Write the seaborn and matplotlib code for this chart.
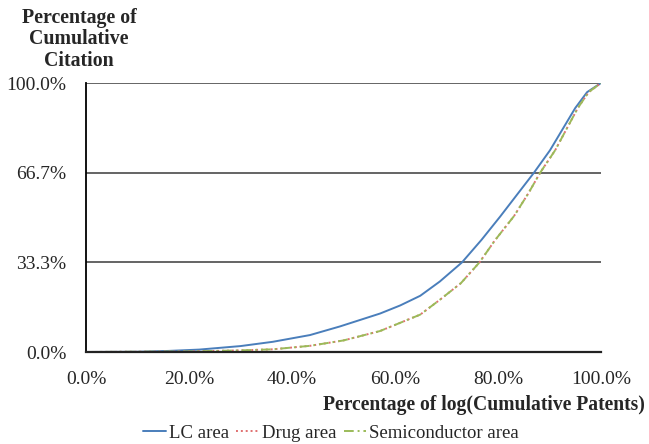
import matplotlib
matplotlib.use("Agg")
import matplotlib.pyplot as plt
from matplotlib.lines import Line2D
import seaborn as sns
import pandas as pd

# Data (percent values)
lc_x = [0, 10, 16, 22, 30, 36.3, 43.5, 49.3, 57.1, 61, 64.9, 68.7, 73, 76.8, 80.4, 83.9, 87, 90.1, 95, 97.3, 100]
lc_y = [0, 0.1, 0.4, 0.9, 2.2, 3.8, 6.3, 9.5, 14.3, 17.3, 20.9, 26.2, 33.3, 41.7, 50.3, 59, 66.7, 75, 90.7, 96.6, 100]

drug_x = [0, 20, 30, 36.3, 43.5, 50, 57.1, 64.9, 68.7, 72.8, 76.4, 79.4, 83.1, 85.9, 88.2, 91.1, 95.5, 97.6, 100]
drug_y = [0, 0.2, 0.6, 1.0, 2.3, 4.3, 7.8, 13.9, 19.4, 25.6, 33.3, 41.5, 50.5, 59, 66.7, 75, 90.7, 96.6, 100]

semi_x = [0, 20, 30, 36.3, 43.5, 50, 57.1, 64.9, 68.7, 72.8, 76.4, 79.4, 83.1, 85.9, 88.2, 91.1, 95.5, 97.6, 100]
semi_y = [0, 0.2, 0.6, 1.0, 2.3, 4.3, 7.8, 13.9, 19.4, 25.6, 33.3, 41.5, 50.5, 59, 66.7, 75, 90.7, 96.6, 100]

series_names = ["LC area", "Drug area", "Semiconductor area"]
x_ticks = [0, 20, 40, 60, 80, 100]
x_labels = ["0.0%", "20.0%", "40.0%", "60.0%", "80.0%", "100.0%"]
y_ticks = [0, 33.333, 66.667, 100]
y_labels = ["0.0%", "33.3%", "66.7%", "100.0%"]

df = pd.concat([
    pd.DataFrame({"x": lc_x, "y": lc_y, "series": series_names[0]}),
    pd.DataFrame({"x": drug_x, "y": drug_y, "series": series_names[1]}),
    pd.DataFrame({"x": semi_x, "y": semi_y, "series": series_names[2]}),
])

sns.set_style("white")
plt.rcParams["font.family"] = ["Liberation Serif", "DejaVu Serif"]

fig = plt.figure(figsize=(6.49, 4.44), dpi=100)
ax = fig.add_axes([86/649, 1-352/444, (601-86)/649, (352-83)/444])

palette = {"LC area": "#4a7ebb", "Drug area": "#e07070", "Semiconductor area": "#9bbb59"}
dashes = {"LC area": "", "Drug area": (1, 1.5), "Semiconductor area": (5, 2, 1, 2)}

# gridlines
for yv in y_ticks[1:]:
    ax.axhline(yv, color="#3a3a3a", lw=1.1, zorder=0)

sns.lineplot(data=df, x="x", y="y", hue="series", style="series",
             palette=palette, dashes=dashes, hue_order=series_names,
             style_order=series_names, ax=ax, lw=1.4, legend=False, sort=False)

ax.set_xlim(0, 100)
ax.set_ylim(0, 100)
ax.set_xticks(x_ticks)
ax.set_xticklabels(x_labels, fontsize=14)
ax.set_yticks(y_ticks)
ax.set_yticklabels(y_labels, fontsize=14)
ax.tick_params(axis="x", length=0, pad=14)
ax.tick_params(axis="y", length=0, pad=14)
ax.set_xlabel("")
ax.set_ylabel("")
for s in ["top", "right"]:
    ax.spines[s].set_visible(False)
ax.spines["left"].set_color("black")
ax.spines["left"].set_linewidth(1.3)
ax.spines["bottom"].set_color("#222222")
ax.spines["bottom"].set_linewidth(1.6)

fig.text(79/649, 1-8/444, "Percentage of\nCumulative\nCitation", ha="center", va="top",
         fontsize=14.3, fontweight="bold", linespacing=1.1)
fig.text(645/649, 1-405/444, "Percentage of log(Cumulative Patents)", ha="right", va="center",
         fontsize=14.1, fontweight="bold")

handles = [Line2D([], [], color=palette[n], lw=1.4,
                  linestyle="-" if dashes[n] == "" else (0, dashes[n])) for n in series_names]
fig.legend(handles, series_names, loc="center", bbox_to_anchor=(0.51, 1-433/444), ncol=3,
           frameon=False, fontsize=13.5, handlelength=1.2, handletextpad=0.15, columnspacing=0.4)

fig.savefig("out.png", dpi=100)
